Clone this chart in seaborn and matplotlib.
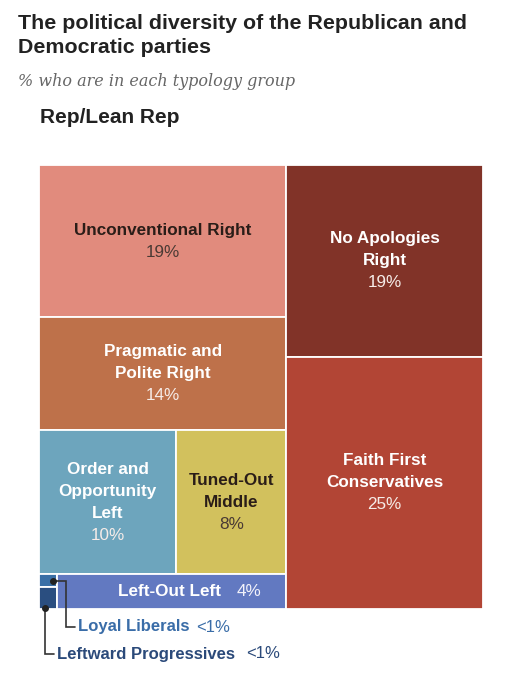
import seaborn as sns
import matplotlib.pyplot as plt

# typology groups, Rep/Lean Rep
groups = ["Unconventional Right", "Pragmatic and\nPolite Right", "Order and\nOpportunity\nLeft",
          "Tuned-Out\nMiddle", "Loyal Liberals", "Leftward Progressives", "Left-Out Left",
          "No Apologies\nRight", "Faith First\nConservatives"]
shares = [19, 14, 10, 8, 0.12, 0.2, 4, 19, 25]
pct_labels = ["19%", "14%", "10%", "8%", "<1%", "<1%", "4%", "19%", "25%"]
colors = ["#E18B7D", "#BE714A", "#6DA5BD", "#D2C15D", "#3A6FA6", "#2A4E80",
          "#6279C1", "#813328", "#B24535"]
dark_text = [True, False, False, True, False, False, False, False, False]

# nesting of the treemap: columns -> rows -> cells
TREE = [[0, 1, [2, 3], [[4, 5], 6]], [7, 8]]

sns.set_theme(style="white")
plt.rcParams["font.family"] = ["Liberation Sans", "DejaVu Sans"]


def total(node):
    if isinstance(node, int):
        return shares[node]
    return sum(total(c) for c in node)


def split(node, x, y, w, h, horiz, out):
    if isinstance(node, int):
        out[node] = (x, y, w, h)
        return
    t = total(node)
    off = 0
    for c in node:
        f = total(c) / t
        if horiz:
            split(c, x + off * w, y, w * f, h, not horiz, out)
        else:
            split(c, x, y + off * h, w, h * f, not horiz, out)
        off += f


rects = {}
split(TREE, 0, 0, 1, 1, True, rects)

W, H = 522, 680
fig = plt.figure(figsize=(W / 100, H / 100), dpi=100)
SIDE = 444  # treemap side in px
ax = fig.add_axes([39 / W, (H - 609) / H, SIDE / W, SIDE / H])
ax.set_xlim(0, 1)
ax.set_ylim(1, 0)
ax.axis("off")

pal = sns.color_palette(colors)
for i, (x, y, w, h) in rects.items():
    ax.bar(x, h, width=w, bottom=y, align="edge", color=pal[i],
           edgecolor="white", linewidth=1.3)

PT = 0.72  # px -> pt at 100 dpi
LINE = 22 * PT
for i in [0, 1, 2, 3, 7, 8]:
    x, y, w, h = rects[i]
    cx, cy = x + w / 2, y + h / 2
    lines = groups[i].split("\n") + [pct_labels[i]]
    n = len(lines)
    for k, s in enumerate(lines):
        is_pct = k == n - 1
        if dark_text[i]:
            col = "#4A3A34" if is_pct else "#2A1D18"
        else:
            col = "#F6ECE8" if is_pct else "white"
        ax.annotate(s, (cx, cy), xytext=(0, -(k - (n - 1) / 2) * LINE),
                    textcoords="offset points", ha="center", va="center",
                    fontsize=12.3, fontweight="normal" if is_pct else "bold", color=col)

fig.canvas.draw()
rend = fig.canvas.get_renderer()


def px_w(t):
    bb = t.get_window_extent(rend)
    return bb.width / SIDE


# Left-Out Left: name + share on one line
x, y, w, h = rects[6]
cx, cy = x + w / 2 + 18 / SIDE, y + h / 2
t1 = ax.text(0, cy, groups[6], fontsize=12.3, fontweight="bold", color="white", va="center")
t2 = ax.text(0, cy, pct_labels[6], fontsize=12.3, color="#F2F2FA", va="center")
gap = 15 / SIDE
tw = px_w(t1) + gap + px_w(t2)
t1.set_x(cx - tw / 2)
t2.set_x(cx - tw / 2 + px_w(t1) + gap)

# small groups with leader lines
callouts = [
    # idx, dot side, elbow run (px), label y (px), text colour, gap before share (px)
    (4, "right", 13, 627, "#3A6DA8", 6),
    (5, "left", 0, 654, "#2B4A7A", 11),
]
for idx, side, run, ly, tcol, g in callouts:
    x, y, w, h = rects[idx]
    if side == "right":
        dx, dy = x + w - 4 / SIDE, y + h / 2
    else:
        dx, dy = x + 6 / SIDE, y + h - 1 / SIDE
    ey = (ly - 165) / SIDE
    ex = dx + run / SIDE
    tx = ex + 9 / SIDE
    ax.plot([dx, ex, ex, tx], [dy, dy, ey, ey], color="#333333", lw=1.2,
            clip_on=False, solid_joinstyle="miter")
    ax.plot(dx, dy, "o", color="#222222", ms=4, clip_on=False)
    n1 = ax.text(tx + 3 / SIDE, ey, groups[idx], fontsize=12, fontweight="bold",
                 color=tcol, va="center", clip_on=False)
    ax.text(tx + 3 / SIDE + px_w(n1) + g / SIDE, ey, pct_labels[idx], fontsize=12,
            color=tcol, va="center", clip_on=False)

# header texts
fig.text(18 / W, 1 - 29 / H, "The political diversity of the Republican and",
         fontsize=15.4, fontweight="bold", color="#222222", va="baseline")
fig.text(18 / W, 1 - 53 / H, "Democratic parties",
         fontsize=15.4, fontweight="bold", color="#222222", va="baseline")
fig.text(18 / W, 1 - 86 / H, "% who are in each typology group",
         fontsize=11.5, style="italic", family="DejaVu Serif", color="#666666", va="baseline")
fig.text(40 / W, 1 - 123 / H, "Rep/Lean Rep",
         fontsize=15, fontweight="bold", color="#222222", va="baseline")

fig.savefig("out.png", dpi=100, facecolor="white")
